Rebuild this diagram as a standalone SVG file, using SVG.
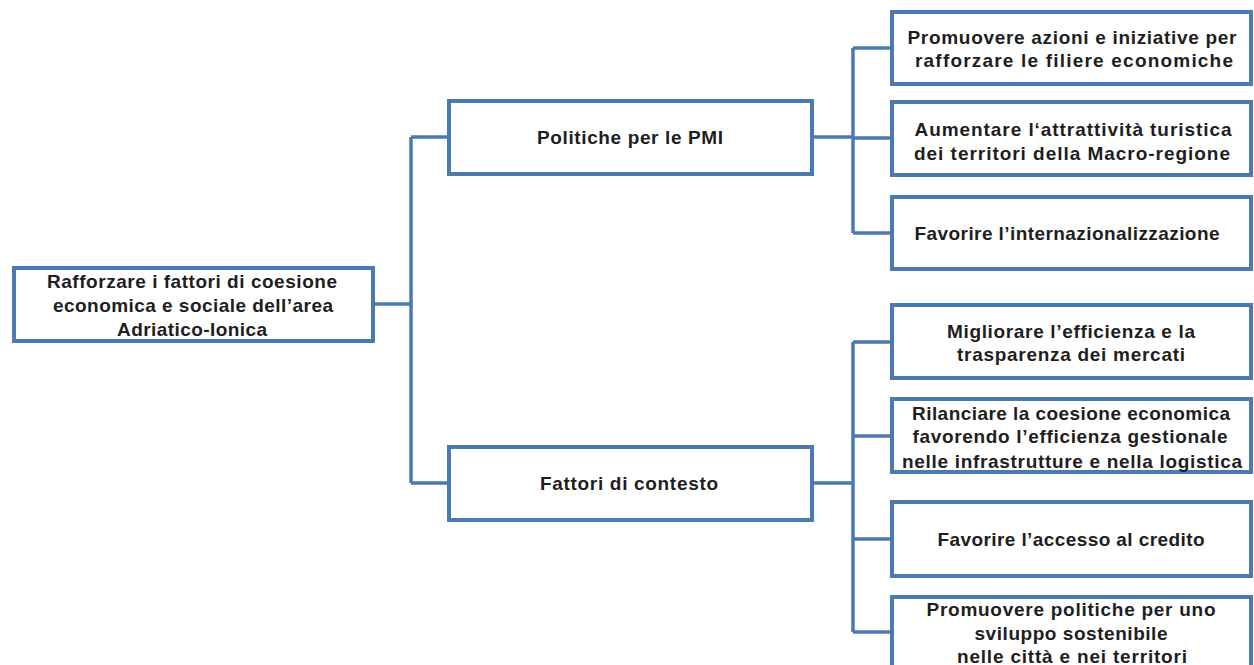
<svg xmlns="http://www.w3.org/2000/svg" width="1254" height="665" viewBox="0 0 1254 665">
<style>
.box{fill:#ffffff;stroke:#4a7ab0;stroke-width:4}
.con{fill:none;stroke:#4a7ab0;stroke-width:3.5}
text{font-family:"Liberation Sans","Noto Sans",sans-serif;font-weight:bold;font-size:19px;fill:#1e1e1e;text-anchor:middle}
</style>
<rect width="1254" height="665" fill="#ffffff"/>
<g id="connectors">
<path class="con" d="M373 304H411M411 137V483M411 137H449M411 483H449"/>
<path class="con" d="M812 137H853M853 48V233M853 48H892M853 138H892M853 233H892"/>
<path class="con" d="M812 483H853M853 342V632M853 342H892M853 436H892M853 539H892M853 632H892"/>
</g>
<g id="root">
<rect class="box" x="14" y="268" width="359" height="73"/>
<text x="192" y="288" textLength="290" lengthAdjust="spacing">Rafforzare i fattori di coesione</text>
<text x="193" y="312" textLength="280" lengthAdjust="spacing">economica e sociale dell’area</text>
<text x="192" y="336" textLength="150" lengthAdjust="spacing">Adriatico-Ionica</text>
</g>
<g id="pmi">
<rect class="box" x="449" y="101" width="363" height="73"/>
<text x="630" y="144" textLength="186" lengthAdjust="spacing">Politiche per le PMI</text>
</g>
<g id="contesto">
<rect class="box" x="449" y="447" width="363" height="73"/>
<text x="629" y="490" textLength="178" lengthAdjust="spacing">Fattori di contesto</text>
</g>
<g id="r1">
<rect class="box" x="892" y="12" width="359" height="72"/>
<text x="1072" y="44" textLength="329" lengthAdjust="spacing">Promuovere azioni e iniziative per</text>
<text x="1074" y="67" textLength="318" lengthAdjust="spacing">rafforzare le filiere economiche</text>
</g>
<g id="r2">
<rect class="box" x="892" y="102" width="359" height="73"/>
<text x="1073" y="136" textLength="317" lengthAdjust="spacing">Aumentare l‘attrattività turistica</text>
<text x="1072" y="160" textLength="316" lengthAdjust="spacing">dei territori della Macro-regione</text>
</g>
<g id="r3">
<rect class="box" x="892" y="197" width="359" height="72"/>
<text x="1067" y="240" textLength="305" lengthAdjust="spacing">Favorire l’internazionalizzazione</text>
</g>
<g id="r4">
<rect class="box" x="892" y="305" width="359" height="73"/>
<text x="1071" y="338" textLength="248" lengthAdjust="spacing">Migliorare l’efficienza e la</text>
<text x="1071" y="361" textLength="228" lengthAdjust="spacing">trasparenza dei mercati</text>
</g>
<g id="r5">
<rect class="box" x="892" y="399" width="359" height="73"/>
<text x="1071" y="420" textLength="318" lengthAdjust="spacing">Rilanciare la coesione economica</text>
<text x="1070" y="443" textLength="315" lengthAdjust="spacing">favorendo l’efficienza gestionale</text>
<text x="1072" y="468" textLength="340" lengthAdjust="spacing">nelle infrastrutture e nella logistica</text>
</g>
<g id="r6">
<rect class="box" x="892" y="502" width="359" height="74"/>
<text x="1071" y="546" textLength="267" lengthAdjust="spacing">Favorire l’accesso al credito</text>
</g>
<g id="r7">
<rect class="box" x="892" y="597" width="359" height="80"/>
<text x="1071" y="616" textLength="289" lengthAdjust="spacing">Promuovere politiche per uno</text>
<text x="1071" y="640" textLength="193" lengthAdjust="spacing">sviluppo sostenibile</text>
<text x="1072" y="663" textLength="230" lengthAdjust="spacing">nelle città e nei territori</text>
</g>
</svg>
